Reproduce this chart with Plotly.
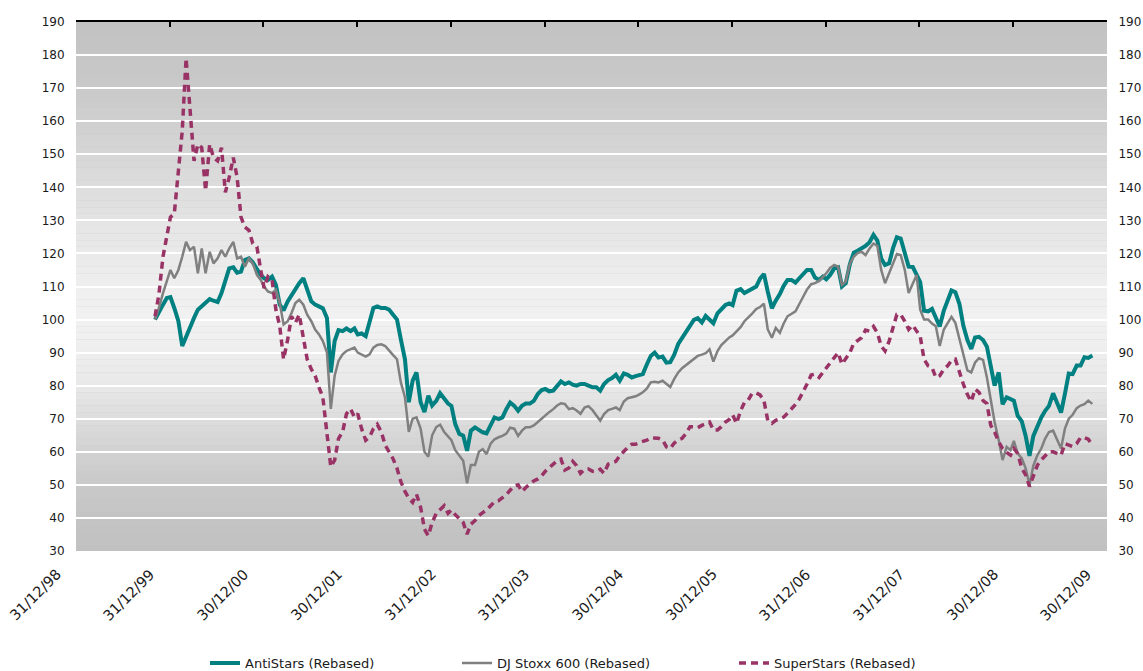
import calendar
from datetime import date, timedelta
import plotly.graph_objects as go

# ---------------- data ----------------
# semi-monthly observation dates (start 31/12/1999, then 15th and month end)
def build_dates():
    out = [date(1999, 12, 31)]
    for yr in range(2000, 2010):
        for mo in range(1, 13):
            out.append(date(yr, mo, 15))
            out.append(date(yr, mo, calendar.monthrange(yr, mo)[1]))
    return out

dates = build_dates()

antistars = [
    100, 102.5, 104.5, 106.5, 106.8, 103.5, 99.5, 92, 94.5, 97.5,
    100.5, 103, 104, 105, 106.2, 105.7, 105.3, 108, 112, 115.5,
    115.8, 114.2, 114.5, 118, 118.5, 117.3, 115.3, 113.5, 112.5, 112,
    113, 110.5, 104.5, 102.8, 105.5, 107.5, 109, 111, 112.5, 109,
    105.5, 104.5, 104, 103.4, 100.5, 84, 93.5, 96.8, 96.5, 97.3,
    96.5, 97.3, 95.5, 95.8, 95, 99, 103.5, 104, 103.5, 103.5,
    103, 101.5, 100, 94, 88, 75, 81.5, 84, 75, 72,
    77, 74, 75.4, 77.7, 76, 74.6, 73.9, 68.4, 65.4, 64.9,
    60.3, 66.4, 67.4, 66.6, 65.9, 65.6, 68.4, 70.4, 69.9, 70.4,
    72.9, 74.9, 73.9, 72.4, 73.9, 74.6, 74.6, 75.4, 77.5, 78.7,
    79, 78.3, 78.5, 79.8, 81.3, 80.5, 81, 80.3, 80, 80.5,
    80.5, 80, 79.5, 79.5, 78.5, 80.5, 81.7, 82.3, 83.3, 81.5,
    83.7, 83.3, 82.5, 82.9, 83.1, 83.5, 86.5, 89, 90, 88.5,
    88.8, 87, 87.1, 89.3, 92.6, 94.4, 95.8, 97.9, 99.9, 100.4,
    99.1, 101.1, 99.9, 98.9, 101.9, 103.1, 104.4, 104.9, 104.4, 108.7,
    109.2, 108, 108.7, 109.5, 110, 112.4, 113.8, 108.4, 103.4, 105.7,
    107.7, 110.2, 112, 112, 111.2, 112.5, 113.7, 115, 115, 112.7,
    112, 113, 112.2, 113.5, 115.5, 115.8, 110, 111, 116.8, 120.2,
    120.8, 121.4, 122.3, 123.3, 125.6, 123.9, 118.5, 116.5, 117, 121.6,
    124.9, 124.5, 120.5, 116, 115.9, 113.6, 111.3, 102.7, 102.5, 103.2,
    100.7, 97.9, 102.7, 105.8, 108.8, 108.3, 104.7, 98.2, 93.8, 91.1,
    94.6, 94.8, 93.8, 91.8, 85.6, 80, 84, 74.4, 76.5, 76,
    75.5, 70.9, 69.2, 64.8, 58.8, 64.8, 67.9, 70.4, 72.4, 73.9,
    77.7, 74.9, 71.9, 77.5, 83.7, 83.5, 86.1, 86.1, 88.6, 88.4,
    89.1,
]

stoxx600 = [
    100, 103.5, 108, 112, 115, 112.5, 115, 119, 123.5, 121,
    122, 114, 121.5, 114, 120.5, 117, 118.5, 121, 119, 121.5,
    123.5, 118.5, 119, 116, 118.5, 117, 113.5, 112, 110, 108.5,
    108, 109, 105, 98.5, 99.5, 102, 105, 106, 104.5, 101.5,
    99.5, 97, 95.5, 93.5, 90, 73, 83, 87.5, 89.5, 90.5,
    91, 91.5, 90, 89.5, 88.8, 89.5, 91.5, 92.3, 92.5, 92,
    90.5, 89.3, 88, 81, 76.5, 66, 70, 70.4, 67, 60,
    58.5, 65, 67.5, 68.2, 66, 64.8, 63.5, 60.5, 58.8, 57.3,
    50.5, 56, 56, 60, 60.8, 59.3, 62.5, 63.8, 64.4, 64.8,
    65.5, 67.3, 67, 64.8, 66.4, 67.4, 67.4, 68, 69, 70,
    71.2, 72, 72.9, 74, 74.7, 74.5, 72.9, 73.2, 72.5, 71.5,
    73.4, 73.8, 72.6, 71.1, 69.4, 71.4, 72.6, 73, 73.4, 72.6,
    75.2, 76.2, 76.5, 76.8, 77.3, 78, 79.2, 81, 81.2, 81,
    81.5, 80.5, 79.6, 82, 84, 85.3, 86.3, 87.3, 88.3, 89,
    89.4, 89.8, 91, 87.3, 90.5, 92.3, 93.5, 94.6, 95.2, 96.4,
    97.7, 99.5, 100.6, 101.8, 103.2, 103.8, 104.8, 97, 94.5, 97.5,
    96, 98.8, 101, 101.8, 102.5, 104.7, 106.7, 109.1, 110.7, 111,
    111.7, 112.9, 114, 115.6, 116.5, 116, 110.5, 111.5, 117, 119,
    120.1, 120.5, 119.5, 121.4, 123, 122.3, 115, 111, 114, 117,
    119.8, 119.5, 115, 108, 110.8, 113.5, 103, 100, 100, 98.8,
    98, 92, 97, 99, 100.8, 99, 94, 89.6, 84.6, 84,
    87, 88.3, 87.8, 82.5, 76, 69, 63.5, 57.5, 61.5, 60.5,
    63.3, 59.5, 58, 55, 50, 55.8, 59, 61, 64, 66,
    66.4, 64, 61, 67, 70, 71.2, 73.2, 74, 74.4, 75.5,
    74.5,
]

superstars = [
    101, 107.5, 119, 125, 131, 132, 144, 157, 179, 165,
    148, 153, 152, 139, 153, 149, 148, 152, 138.5, 143,
    149, 143, 131, 128, 127, 123, 122, 115, 109.5, 113,
    112, 103, 98, 88, 94, 101, 99, 101.5, 95, 88,
    85, 83, 79.5, 76.5, 65.6, 55.5, 57.5, 64, 66, 71.5,
    73, 70.5, 71.5, 67, 63.5, 64.5, 67, 68.3, 66, 62,
    60, 58, 55, 51, 48, 46, 44.7, 47.2, 43.2, 36.6,
    34.6, 38.6, 41.4, 42.7, 43.7, 41.4, 42.4, 41, 39.7, 38.6,
    35.1, 38.1, 39.2, 40.7, 41.6, 42.4, 43.7, 44.9, 45.2, 46,
    47, 48.4, 49.7, 50, 48, 49.2, 50.4, 51.2, 51.8, 52.8,
    54.1, 55.1, 56.3, 57.3, 57.8, 54.5, 55.1, 57.1, 55.8, 53.5,
    54.7, 54.8, 54.1, 54, 54.7, 53.5, 56.3, 56.6, 57.1, 58.8,
    60.3, 61.3, 62.3, 62.3, 62.8, 63.1, 63.5, 64.2, 64.1, 64.1,
    63.6, 61.5, 61, 62.6, 63.6, 64.1, 65.6, 67.6, 67.6, 67.3,
    68, 68.6, 69, 66.6, 66.6, 67.6, 69, 69.8, 71.2, 68.6,
    72.4, 74.9, 75.7, 77.7, 77.8, 77.2, 75.5, 69.5, 68.6, 69.5,
    70, 70.5, 71.7, 72.8, 74.3, 76, 78, 80.5, 83.2, 83.5,
    82.5, 84, 85.3, 86.8, 88.6, 90, 86.5, 88, 90, 92.8,
    93.6, 94.5, 96.8, 96.5, 97.9, 96, 92, 90.5, 93.5, 97.5,
    101.5, 101.5, 99.5, 97, 98.3, 96.5, 95, 88, 86, 85.5,
    82.5, 83, 85, 86, 87.6, 88, 84, 80.5, 77.3, 75.2,
    79, 78, 75.5, 74.6, 68, 66, 63, 61, 59.8, 59,
    61, 59.5, 55, 53, 49.5, 53, 56, 57.6, 58.8, 60,
    60, 59.5, 59, 62.5, 62, 61.6, 62.5, 64.3, 64.3, 63.8,
    62,
]

series_names = ["AntiStars (Rebased)", "DJ Stoxx 600 (Rebased)", "SuperStars (Rebased)"]

tick_labels = ["31/12/98", "31/12/99", "30/12/00", "30/12/01", "31/12/02", "31/12/03",
               "30/12/04", "30/12/05", "31/12/06", "31/12/07", "30/12/08", "30/12/09"]

y_ticks = list(range(30, 191, 10))

assert len(dates) == len(antistars) == len(stoxx600) == len(superstars)

# ---------------- layout helpers ----------------
def label_to_date(s):
    d, m, y = s.split("/")
    return date(1900 + int(y) if int(y) > 50 else 2000 + int(y), int(m), int(d))

TICK_SHIFT = timedelta(days=57)    # category ticks sit slightly right of the daily points
LABEL_SHIFT = timedelta(days=15)   # rotated labels end a little left of each tick mark
tick_pos = [label_to_date(s) + TICK_SHIFT for s in tick_labels]
label_pos = [label_to_date(s) + LABEL_SHIFT for s in tick_labels]
x_range = [date(1999, 2, 26), date(2010, 2, 26)]
y_range = [30, 190]
span_days = (x_range[1] - x_range[0]).days

def date_to_domain(d):
    # position of a date as a fraction of the x-axis domain (may fall just outside 0..1)
    return (d - x_range[0]).days / span_days

FONT = "DejaVu Sans"
TXT = "#1a1a1a"

# background gradient (light in the middle, darker top and bottom)
stops = [(30, 193), (40, 196), (50, 201), (60, 209), (70, 221), (80, 232), (90, 238),
         (100, 241), (110, 239), (130, 228), (150, 214), (170, 201), (190, 194)]

def shade(v):
    for (a, ca), (b, cb) in zip(stops[:-1], stops[1:]):
        if a <= v <= b:
            t = (v - a) / (b - a)
            return int(round(ca + (cb - ca) * t))
    return stops[-1][1]

shapes = []
n_bands = 80
step = (y_range[1] - y_range[0]) / n_bands
for i in range(n_bands):
    y0 = y_range[0] + i * step
    c = shade(y0 + step / 2)
    shapes.append(dict(type="rect", xref="x domain", yref="y", x0=0, x1=1,
                       y0=y0, y1=y0 + step, fillcolor=f"rgb({c},{c},{c})",
                       line=dict(width=0), layer="below"))

# rotated date labels under the plot
annotations = [
    dict(x=date_to_domain(p), y=-0.026, xref="x domain", yref="paper", text=t,
         showarrow=False, textangle=-45, xanchor="right", yanchor="top", borderpad=0,
         font=dict(family=FONT, size=14.5, color=TXT))
    for p, t in zip(label_pos, tick_labels)
]

fig = go.Figure()
fig.add_trace(go.Scatter(x=dates, y=antistars, mode="lines", name=series_names[0],
                         line=dict(color="#008080", width=4), legend="legend"))
fig.add_trace(go.Scatter(x=dates, y=stoxx600, mode="lines", name=series_names[1],
                         line=dict(color="#808080", width=2.5), legend="legend2"))
fig.add_trace(go.Scatter(x=dates, y=superstars, mode="lines", name=series_names[2],
                         line=dict(color="#993366", width=3.5, dash="7px,5px"), legend="legend3"))
# helper trace so the top date axis and right value axis are drawn
fig.add_trace(go.Scatter(x=[dates[0]], y=[None], xaxis="x2", yaxis="y2", mode="lines",
                         showlegend=False, hoverinfo="skip"))

legend_common = dict(orientation="h", xanchor="left", yanchor="middle", y=-0.212,
                     bgcolor="rgba(0,0,0,0)", font=dict(family=FONT, size=13, color=TXT),
                     borderwidth=0)

fig.update_layout(
    width=1143, height=671,
    margin=dict(l=76, r=36, t=22, b=120, autoexpand=False),
    paper_bgcolor="white", plot_bgcolor="#c8c8c8",
    font=dict(family=FONT, size=12, color=TXT),
    shapes=shapes,
    annotations=annotations,
    xaxis=dict(type="date", range=x_range, showticklabels=False,
               showgrid=False, zeroline=False, showline=False, ticks=""),
    xaxis2=dict(type="date", overlaying="x", side="top", anchor="y2", matches="x",
                range=x_range, tickvals=tick_pos, showticklabels=False,
                showgrid=False, zeroline=False, showline=True, linecolor="black",
                linewidth=2, ticks="inside", ticklen=5, tickwidth=2, tickcolor="black"),
    yaxis=dict(range=y_range, tickvals=y_ticks, showgrid=True, gridcolor="white",
               gridwidth=1.5, zeroline=False, showline=False, ticks="outside",
               ticklen=8, tickcolor="rgba(0,0,0,0)",
               tickfont=dict(family=FONT, size=12, color=TXT)),
    yaxis2=dict(range=y_range, tickvals=y_ticks, overlaying="y", side="right",
                anchor="x2", matches="y", showgrid=False, zeroline=False, showline=False,
                ticks="outside", ticklen=8, tickcolor="rgba(0,0,0,0)",
                tickfont=dict(family=FONT, size=12, color=TXT)),
    legend=dict(x=(205 - 76) / 1031, **legend_common),
    legend2=dict(x=(457 - 76) / 1031, **legend_common),
    legend3=dict(x=(734 - 76) / 1031, **legend_common),
    hovermode=False,
)

fig.write_html("out.html")
